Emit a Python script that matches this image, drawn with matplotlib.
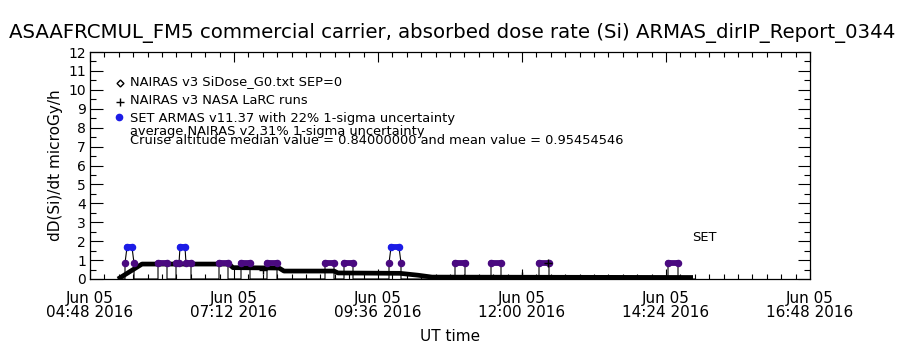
import matplotlib
matplotlib.use("Agg")
import matplotlib.pyplot as plt
from matplotlib.ticker import FixedLocator, MultipleLocator

plt.rcParams['font.family'] = ['DejaVu Sans']

title = "ASAAFRCMUL_FM5 commercial carrier, absorbed dose rate (Si) ARMAS_dirIP_Report_0344"
ylabel = "dD(Si)/dt microGy/h"
xlabel = "UT time"

# x tick positions (UT) and labels
xtick_times = ["04:48", "07:12", "09:36", "12:00", "14:24", "16:48"]
xtick_labels = ["Jun 05\n04:48 2016", "Jun 05\n07:12 2016", "Jun 05\n09:36 2016",
                "Jun 05\n12:00 2016", "Jun 05\n14:24 2016", "Jun 05\n16:48 2016"]
yticks = list(range(0, 13))

# NAIRAS v3 SiDose_G0.txt SEP=0 (diamonds, thick black)
nairas_time = ["05:16", "05:40", "07:07", "07:11", "07:57", "08:02", "08:52", "08:56",
               "09:58", "10:16", "10:30", "14:51"]
nairas_dose = [0.0, 0.79, 0.79, 0.60, 0.58, 0.42, 0.42, 0.32, 0.30, 0.20, 0.10, 0.08]

# NAIRAS v3 NASA LaRC runs (+)
larc_time = ["07:41", "12:00", "12:26"]
larc_dose = [0.45, 0.15, 0.85]

# SET ARMAS v11.37 dose rate
armas_time = ["05:16",
              "05:23", "05:23", "05:25", "05:30", "05:32", "05:32",
              "05:56", "05:56", "06:05", "06:05",
              "06:14", "06:14", "06:17", "06:18", "06:23", "06:24", "06:29", "06:29",
              "06:57", "06:57", "07:06", "07:06",
              "07:19", "07:19", "07:28", "07:28",
              "07:45", "07:45", "07:55", "07:55",
              "08:43", "08:43", "08:52", "08:52",
              "09:02", "09:02", "09:11", "09:11",
              "09:47", "09:47", "09:49", "09:57", "09:59", "09:59",
              "10:53", "10:53", "11:03", "11:03",
              "11:29", "11:29", "11:39", "11:39",
              "12:17", "12:17", "12:27", "12:27",
              "14:26", "14:26", "14:36", "14:36",
              "14:53"]
armas_dose = [0.0,
              0.0, 0.84, 1.68, 1.68, 0.84, 0.0,
              0.0, 0.84, 0.84, 0.0,
              0.0, 0.84, 0.84, 1.68, 1.68, 0.84, 0.84, 0.0,
              0.0, 0.84, 0.84, 0.0,
              0.0, 0.84, 0.84, 0.0,
              0.0, 0.84, 0.84, 0.0,
              0.0, 0.84, 0.84, 0.0,
              0.0, 0.84, 0.84, 0.0,
              0.0, 0.84, 1.68, 1.68, 0.84, 0.0,
              0.0, 0.84, 0.84, 0.0,
              0.0, 0.84, 0.84, 0.0,
              0.0, 0.84, 0.84, 0.0,
              0.0, 0.84, 0.84, 0.0,
              0.0]

legend_texts = ["NAIRAS v3 SiDose_G0.txt SEP=0",
                "NAIRAS v3 NASA LaRC runs",
                "SET ARMAS v11.37 with 22% 1-sigma uncertainty",
                "average NAIRAS v2 31% 1-sigma uncertainty",
                "Cruise altitude median value = 0.84000000 and mean value = 0.95454546"]
set_label = "SET"


def hours(s):
    h, m = s.split(":")
    return int(h) + int(m) / 60.0


PURPLE = "#4a0a80"
BLUE = "#1c1ce6"


def dose_color(v):
    return BLUE if v > 1.2 else PURPLE


fig = plt.figure(figsize=(9, 3.5), dpi=100)
ax = fig.add_axes([0.1, 1 - 279 / 350, 0.8, (279 - 52) / 350])

# NAIRAS thick line
nt = [hours(s) for s in nairas_time]
ax.plot(nt, nairas_dose, color="black", lw=3.4, solid_capstyle="butt", zorder=3)

# ARMAS connecting line
at = [hours(s) for s in armas_time]
ax.plot(at, armas_dose, color="black", lw=0.8, zorder=4)

# ARMAS coloured markers (dense -> bars)
for i in range(len(at) - 1):
    if armas_dose[i] > 0 and armas_dose[i] == armas_dose[i + 1]:
        ax.plot([at[i], at[i + 1]], [armas_dose[i], armas_dose[i + 1]],
                color=dose_color(armas_dose[i]), lw=4.2, solid_capstyle="round", zorder=5)
for t, v in zip(at, armas_dose):
    if v > 0:
        ax.plot([t], [v], "o", ms=4.4, color=dose_color(v), mec=dose_color(v), zorder=5)

# LaRC runs
ax.plot([hours(s) for s in larc_time], larc_dose, "+", color="black", ms=6, mew=1.0,
        ls="none", zorder=6)

# axes limits & ticks
ax.set_xlim(hours("04:48"), hours("16:48"))
ax.set_ylim(0, 12)
ax.xaxis.set_major_locator(FixedLocator([hours(s) for s in xtick_times]))
ax.set_xticklabels(xtick_labels, fontsize=11, linespacing=0.9)
ax.xaxis.set_minor_locator(MultipleLocator(0.24))
ax.set_yticks(yticks)
ax.set_yticklabels([str(v) for v in yticks], fontsize=10)
ax.yaxis.set_minor_locator(MultipleLocator(0.5))
ax.tick_params(axis="both", which="both", direction="in", top=True, right=True, width=0.8)
ax.tick_params(axis="x", which="major", length=7, pad=9)
ax.tick_params(axis="x", which="minor", length=3.5)
ax.tick_params(axis="y", which="major", length=9, pad=3)
ax.tick_params(axis="y", which="minor", length=4.5)
for sp in ax.spines.values():
    sp.set_linewidth(0.9)

ax.set_ylabel(ylabel, fontsize=11, labelpad=4)
ax.set_xlabel(xlabel, fontsize=11, labelpad=6)

fig.text(0.502, 1 - 33 / 350, title, ha="center", va="center", fontsize=14.2)


def fy(py):
    return 1 - py / 350.0


fs_leg = 9.4
fig.text(130 / 900, fy(82), legend_texts[0], fontsize=fs_leg, va="center")
fig.text(130 / 900, fy(100), legend_texts[1], fontsize=fs_leg, va="center")
fig.text(130 / 900, fy(118), legend_texts[2], fontsize=fs_leg, va="center")
fig.text(130 / 900, fy(131), legend_texts[3], fontsize=fs_leg, va="center")
fig.text(130 / 900, fy(140), legend_texts[4], fontsize=fs_leg, va="center")
fig.lines.append(plt.Line2D([120 / 900], [fy(83)], marker="D", ms=3.5, mfc="white",
                            mec="black", mew=1.0, transform=fig.transFigure))
fig.lines.append(plt.Line2D([120 / 900], [fy(102)], marker="+", ms=6, mec="black",
                            mew=1.0, transform=fig.transFigure))
fig.lines.append(plt.Line2D([119 / 900], [fy(117)], marker="o", ms=4.5, mfc=BLUE,
                            mec=BLUE, transform=fig.transFigure))

ax.text(hours("14:50"), 2.2, set_label, fontsize=9.4, va="center", ha="left")

fig.savefig("out.png", dpi=100)
